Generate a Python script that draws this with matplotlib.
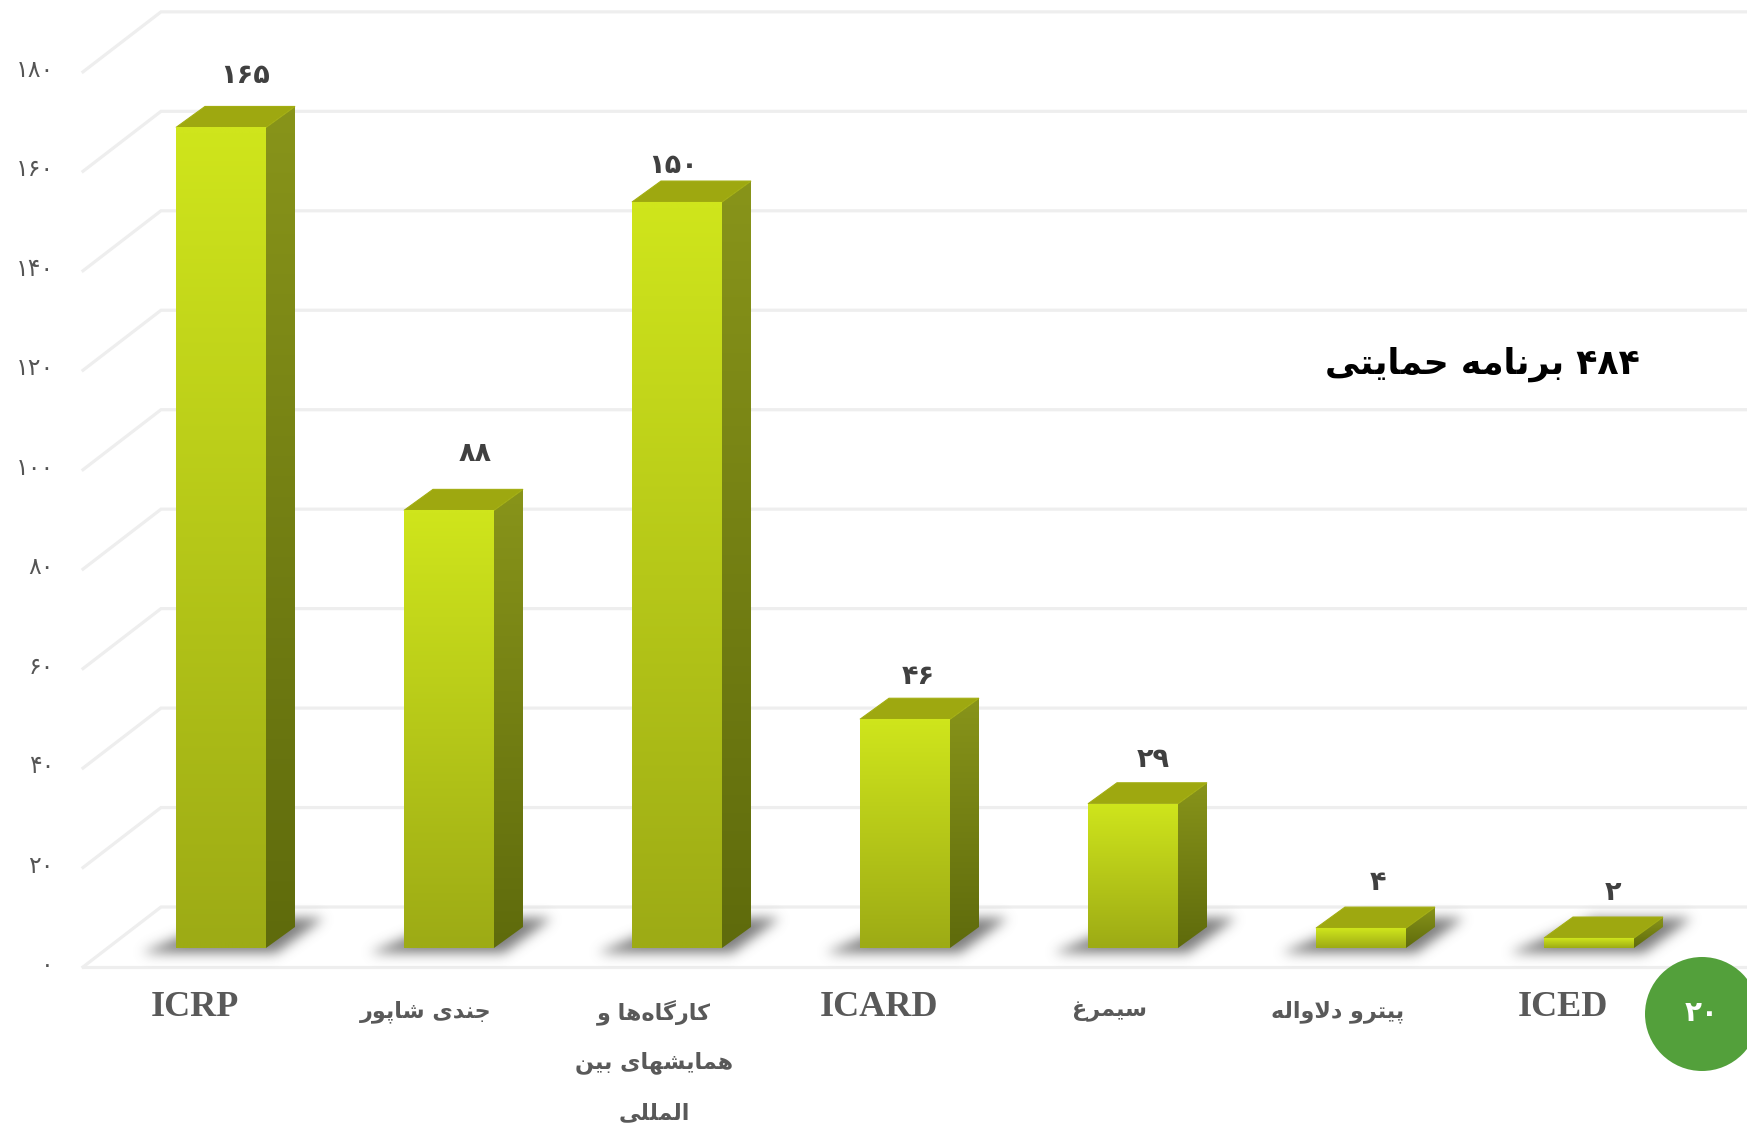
import numpy as np
import matplotlib
matplotlib.use("Agg")
import matplotlib.pyplot as plt
from matplotlib.patches import Polygon, Ellipse
from matplotlib.path import Path

# ---------- data ----------
categories = ["ICRP", "جندی شاپور", "کارگاه‌ها و\nهمایشهای بین\nالمللی", "ICARD",
              "سیمرغ", "پیترو دلاواله", "ICED"]
values = [165, 88, 150, 46, 29, 4, 2]
value_labels = ["۱۶۵", "۸۸", "۱۵۰", "۴۶", "۲۹", "۴", "۲"]
y_ticks = [0, 20, 40, 60, 80, 100, 120, 140, 160, 180]
y_tick_labels = ["۰", "۲۰", "۴۰", "۶۰", "۸۰", "۱۰۰", "۱۲۰", "۱۴۰", "۱۶۰", "۱۸۰"]
title = "۴۸۴ برنامه حمایتی"
badge = "۲۰"

# ---------- layout (pixels) ----------
W, H = 1747, 1129
PX_CAT, PX_VAL = 228.0, 4.973
CX0, BASE = 221.0, 948.0
BAR_W, DEPTH_X, DEPTH_Y = 90.0, 29.0, 21.0
label_shift_x = [24, 26, -4, 13, 20, 17, 24]
label_shift_y = [30, 35, 15, 21, 23, 24, 24]

def X(px): return (px - CX0) / PX_CAT
def Y(py): return (BASE - py) / PX_VAL
def DX(p): return p / PX_CAT
def DY(p): return p / PX_VAL

# ---------- Persian shaping ----------
FORMS = {
    'ا': (0xFE8D, 0xFE8E), 'د': (0xFEA9, 0xFEAA), 'ر': (0xFEAD, 0xFEAE), 'و': (0xFEED, 0xFEEE),
    'ب': (0xFE8F, 0xFE90, 0xFE91, 0xFE92), 'پ': (0xFB56, 0xFB57, 0xFB58, 0xFB59),
    'ت': (0xFE95, 0xFE96, 0xFE97, 0xFE98), 'ج': (0xFE9D, 0xFE9E, 0xFE9F, 0xFEA0),
    'ح': (0xFEA1, 0xFEA2, 0xFEA3, 0xFEA4), 'س': (0xFEB1, 0xFEB2, 0xFEB3, 0xFEB4),
    'ش': (0xFEB5, 0xFEB6, 0xFEB7, 0xFEB8), 'غ': (0xFECD, 0xFECE, 0xFECF, 0xFED0),
    'ک': (0xFB8E, 0xFB8F, 0xFB90, 0xFB91), 'گ': (0xFB92, 0xFB93, 0xFB94, 0xFB95),
    'ل': (0xFEDD, 0xFEDE, 0xFEDF, 0xFEE0), 'م': (0xFEE1, 0xFEE2, 0xFEE3, 0xFEE4),
    'ن': (0xFEE5, 0xFEE6, 0xFEE7, 0xFEE8), 'ه': (0xFEE9, 0xFEEA, 0xFEEB, 0xFEEC),
    'ی': (0xFBFC, 0xFBFD, 0xFBFE, 0xFBFF),
}

def shape(s):
    out = []
    i, n = 0, len(s)
    prev_joins = False
    while i < n:
        c = s[i]
        if c not in FORMS:
            if c != '\u200c':
                out.append(c)
            prev_joins = False
            i += 1
            continue
        if c == 'ل' and i + 1 < n and s[i + 1] == 'ا':
            out.append(chr(0xFEFC if prev_joins else 0xFEFB))
            prev_joins = False
            i += 2
            continue
        f = FORMS[c]
        nxt = s[i + 1] if i + 1 < n else ''
        can_next = len(f) == 4 and nxt in FORMS
        if prev_joins and can_next:
            g = f[3]
        elif prev_joins:
            g = f[1]
        elif can_next:
            g = f[2]
        else:
            g = f[0]
        out.append(chr(g))
        prev_joins = can_next
        i += 1
    r = ''.join(out)[::-1]
    # digits keep left-to-right order
    res, run = [], []
    for ch in r:
        if '\u06f0' <= ch <= '\u06f9':
            run.append(ch)
        else:
            res.extend(run[::-1]); run = []
            res.append(ch)
    res.extend(run[::-1])
    return ''.join(res)

def rgb(h):
    return np.array(matplotlib.colors.to_rgb(h))

def gradient(ax, poly, top, bottom, z):
    xs, ys = zip(*poly)
    t = np.linspace(0, 1, 64)[:, None, None]
    img = rgb(top)[None, None, :] * (1 - t) + rgb(bottom)[None, None, :] * t
    im = ax.imshow(img, extent=(min(xs), max(xs), min(ys), max(ys)), origin='upper',
                   aspect='auto', interpolation='bilinear', zorder=z)
    clip = Polygon(poly, closed=True, transform=ax.transData, fc='none', ec='none')
    ax.add_patch(clip)
    im.set_clip_path(clip)

def blur(a, sigma):
    r = int(3 * sigma)
    k = np.exp(-0.5 * (np.arange(-r, r + 1) / sigma) ** 2)
    k /= k.sum()
    a = np.apply_along_axis(lambda v: np.convolve(v, k, mode='same'), 0, a)
    return np.apply_along_axis(lambda v: np.convolve(v, k, mode='same'), 1, a)

def shadow(ax, x0):
    # x0: left pixel of the bar front
    pad = 30
    gx0, gx1, gy0, gy1 = x0 - 40 - pad, x0 + 165 + pad, BASE - 36 - pad, BASE + 10 + pad
    gx, gy = np.meshgrid(np.arange(gx0, gx1), np.arange(gy0, gy1))
    p = Path([(x0 - 34, BASE + 4), (x0 + 100, BASE + 4), (x0 + 148, BASE - 31), (x0 + 50, BASE - 31)])
    m = p.contains_points(np.c_[gx.ravel(), gy.ravel()]).reshape(gx.shape).astype(float)
    m = blur(m, 6.0)
    img = np.zeros(m.shape + (4,))
    img[..., :3] = 0.40
    img[..., 3] = m * 0.85
    ax.imshow(img, extent=(X(gx0), X(gx1), Y(gy1), Y(gy0)), origin='upper', aspect='auto',
              interpolation='bilinear', zorder=2)

# ---------- figure ----------
fig = plt.figure(figsize=(W / 100, H / 100), dpi=100, facecolor='white')
ax = fig.add_axes([0, 0, 1, 1])
ax.axis('off')

grid_c = '#eeeeee'
front_off, back_off = 19.0, -41.0
for v, lab in zip(y_ticks, y_tick_labels):
    yf = v + DY(-front_off)
    yb = v + DY(-back_off)
    ax.plot([X(83), X(161), X(W + 5)], [yf, yb, yb], color=grid_c, lw=2.3, zorder=1,
            solid_joinstyle='miter')
    ax.text(X(54), yf + DY(2), shape(lab), ha='right', va='center', fontsize=17, color='#555555',
            family='DejaVu Sans', zorder=5)
ax.plot([X(83), X(W + 5)], [DY(-front_off)] * 2, color=grid_c, lw=2.3, zorder=1)

for i, (v, lab) in enumerate(zip(values, value_labels)):
    cx = i
    xl, xr = cx - DX(BAR_W / 2), cx + DX(BAR_W / 2)
    dx, dy = DX(DEPTH_X), DY(DEPTH_Y)
    shadow(ax, CX0 + i * PX_CAT - BAR_W / 2)
    gradient(ax, [(xr, v), (xr + dx, v + dy), (xr + dx, dy), (xr, 0)], '#88941a', '#5f6b0c', 3)
    ax.add_patch(Polygon([(xl, v), (xr, v), (xr + dx, v + dy), (xl + dx, v + dy)], closed=True,
                         fc='#9ea810', ec='#a3ae12', lw=0.8, zorder=3))
    gradient(ax, [(xl, 0), (xr, 0), (xr, v), (xl, v)], '#cfe51c', '#9dab15', 4)
    ax.text(cx + DX(label_shift_x[i]), v + DY(DEPTH_Y + label_shift_y[i]), shape(lab),
            ha='center', va='center', fontsize=19.5, fontweight='bold', color='#404040',
            family='DejaVu Sans', zorder=5)

for i, c in enumerate(categories):
    cx = i - DX(26)
    if c.isascii():
        ax.text(cx, Y(1008), c, ha='center', va='center', fontsize=26, fontweight='bold',
                color='#595959', family='Liberation Serif', zorder=5)
    else:
        for j, line in enumerate(c.split('\n')):
            ax.text(cx + DX(3), Y(1012 + j * 50.5), shape(line), ha='center', va='center', fontsize=16,
                    fontweight='bold', color='#595959', family='DejaVu Sans', zorder=5)

ax.text(X(1482), Y(364), shape(title), ha='center', va='center', fontsize=25, fontweight='bold',
        color='black', family='DejaVu Sans', zorder=5)

ax.add_patch(Ellipse((X(1702), Y(1014)), DX(114), DY(114), fc='#53a03b', ec='none', zorder=6))
ax.text(X(1702), Y(1013), shape(badge), ha='center', va='center', fontsize=20, fontweight='bold',
        color='white', family='DejaVu Sans', zorder=7)

ax.set_xlim(X(0), X(W))
ax.set_ylim(Y(H), Y(0))
fig.savefig('out.png', dpi=100, facecolor='white')
